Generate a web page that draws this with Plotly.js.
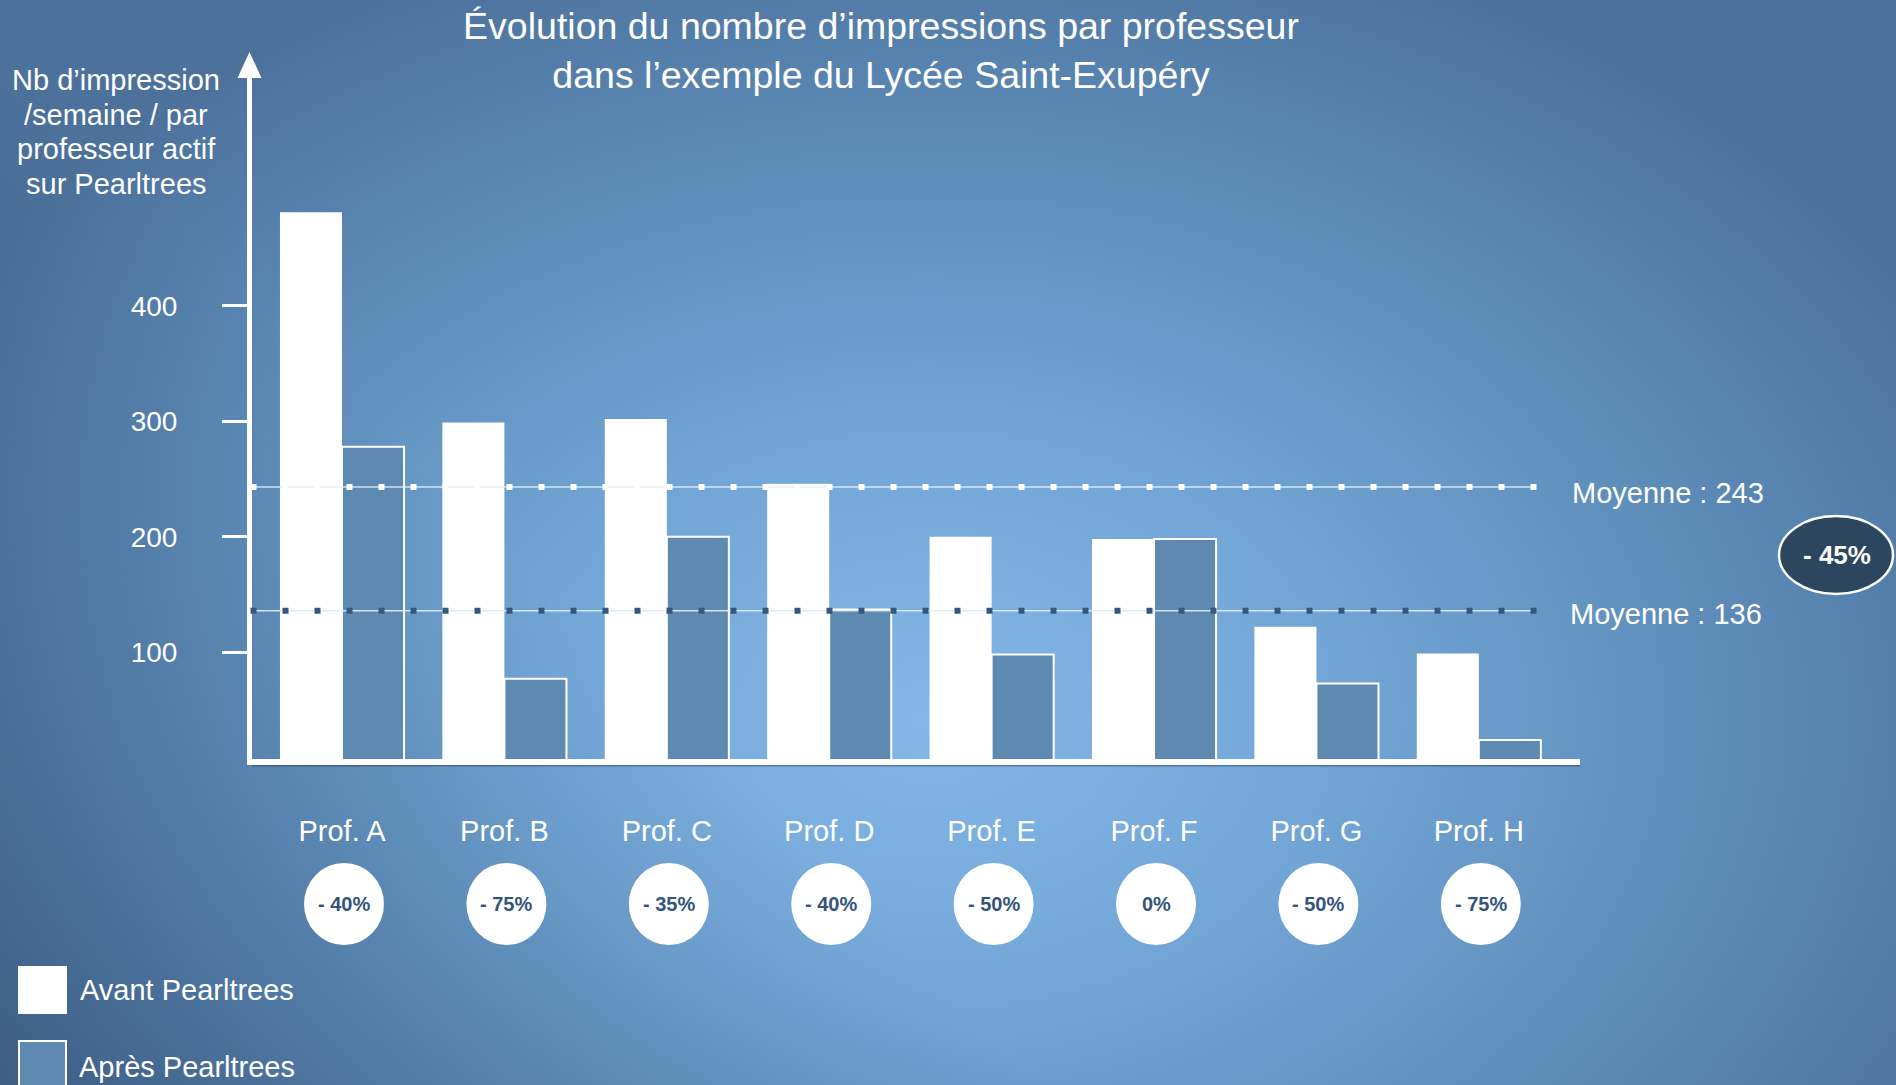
<!DOCTYPE html>
<html>
<head>
<meta charset="utf-8">
<script src="https://cdn.plot.ly/plotly-3.0.1.min.js"></script>
<style>
  html, body { margin: 0; padding: 0; width: 1896px; height: 1085px; overflow: hidden; }
  body {
    background:
      linear-gradient(45deg, rgba(25,45,75,0.35) 0%, rgba(25,45,75,0) 35%),
      radial-gradient(ellipse 1150px 820px at 930px 720px, #83b7e7 0%, #72a6d6 35%, #5d8bb8 70%, #4c729c 100%);
  }
  #chart { width: 1896px; height: 1085px; }
</style>
</head>
<body>
<div id="chart"></div>
<script>
// ---- data ----
const categories = ['Prof. A', 'Prof. B', 'Prof. C', 'Prof. D', 'Prof. E', 'Prof. F', 'Prof. G', 'Prof. H'];
const avant = [481, 299, 302, 246, 200, 198, 122, 99];
const apres = [278, 77, 200, 137, 98, 198, 73, 24];
const variations = ['- 40%', '- 75%', '- 35%', '- 40%', '- 50%', '0%', '- 50%', '- 75%'];
const moyenneAvant = 243;
const moyenneApres = 136;
const variationMoyenne = '- 45%';
const yTicks = [100, 200, 300, 400];
const seriesNames = ['Avant Pearltrees', 'Après Pearltrees'];
const yTitleLines = ['Nb d’impression', '/semaine / par', 'professeur actif', 'sur Pearltrees'];

const FONT = '"Liberation Sans", Arial, Helvetica, sans-serif';
const BLUE = '#5e89b0';
const DARK = '#2c4660';

const idx = categories.map((_, i) => i);

const traces = [
  { type: 'bar', name: seriesNames[0], x: idx, y: avant,
    marker: { color: '#ffffff', line: { width: 0 } }, hoverinfo: 'y' },
  { type: 'bar', name: seriesNames[1], x: idx, y: apres,
    marker: { color: BLUE, line: { color: '#ffffff', width: 2 } }, hoverinfo: 'y' }
];

// layout geometry helpers (pixels -> paper)
const W = 1896, H = 1085, ML = 252, MR = 316, MT = 77, MB = 326;
const PW = W - ML - MR, PH = H - MT - MB;
const px = v => (v - ML) / PW;
const py = v => (H - MB - v) / PH;

const shapes = [];
const annotations = [];

// y-axis arrowhead
shapes.push({ type: 'path', xref: 'paper', yref: 'paper',
  path: `M ${px(237.5)},${py(78)} L ${px(249.5)},${py(52)} L ${px(261.5)},${py(78)} Z`,
  fillcolor: '#ffffff', line: { width: 0 }, layer: 'above' });

// x-axis shadow
shapes.push({ type: 'line', xref: 'paper', yref: 'paper', x0: px(252), x1: px(1580), y0: py(765), y1: py(765),
  line: { color: 'rgba(30,50,80,0.45)', width: 3 }, layer: 'below' });

// mean lines
[[moyenneAvant, '#ffffff'], [moyenneApres, '#36587f']].forEach(([m, c]) => {
  shapes.push({ type: 'line', xref: 'paper', yref: 'y', x0: px(253), x1: px(1536), y0: m, y1: m,
    line: { color: 'rgba(225,236,250,0.9)', width: 1.5 }, layer: 'above' });
  shapes.push({ type: 'line', xref: 'paper', yref: 'y', x0: px(250.5), x1: px(1537), y0: m, y1: m,
    line: { color: c, width: 6, dash: '6px,26px' }, layer: 'above' });
});
annotations.push({ xref: 'paper', yref: 'y', x: px(1570), y: moyenneAvant, yshift: -6, xanchor: 'left', yanchor: 'middle',
  text: 'Moyenne : ' + moyenneAvant, showarrow: false, font: { family: FONT, size: 29, color: '#ffffff' } });
annotations.push({ xref: 'paper', yref: 'y', x: px(1568), y: moyenneApres, yshift: -3, xanchor: 'left', yanchor: 'middle',
  text: 'Moyenne : ' + moyenneApres, showarrow: false, font: { family: FONT, size: 29, color: '#ffffff' } });

// -45% badge
shapes.push({ type: 'circle', xref: 'paper', yref: 'paper', xsizemode: 'pixel', ysizemode: 'pixel',
  xanchor: px(1836), yanchor: py(555), x0: -57, x1: 57, y0: -39, y1: 39,
  fillcolor: DARK, line: { color: '#ffffff', width: 2.5 } });
annotations.push({ xref: 'paper', yref: 'paper', x: px(1837), y: py(555), xanchor: 'center', yanchor: 'middle',
  text: '<b>' + variationMoyenne + '</b>', showarrow: false, font: { family: FONT, size: 26, color: '#ffffff' } });

// per-teacher variation badges
idx.forEach(i => {
  shapes.push({ type: 'circle', xref: 'x', yref: 'paper', xsizemode: 'pixel', ysizemode: 'pixel',
    xanchor: i, yanchor: py(904), x0: -38, x1: 42, y0: -41, y1: 41,
    fillcolor: '#ffffff', line: { width: 0 } });
  annotations.push({ xref: 'x', yref: 'paper', x: i, xshift: 2, y: py(904), xanchor: 'center', yanchor: 'middle',
    text: '<b>' + variations[i] + '</b>', showarrow: false, font: { family: FONT, size: 20, color: '#33557c' } });
});

// y-axis title (one annotation per line to match the tight line spacing)
const yTitleY = [80, 115, 149, 184];
yTitleLines.forEach((t, k) => {
  annotations.push({ xref: 'paper', yref: 'paper', x: px(116), y: py(yTitleY[k]), xanchor: 'center', yanchor: 'middle',
    text: t, showarrow: false, font: { family: FONT, size: 29, color: '#ffffff' } });
});

// legend
shapes.push({ type: 'rect', xref: 'paper', yref: 'paper', x0: px(18), x1: px(67), y0: py(1014), y1: py(966),
  fillcolor: '#ffffff', line: { width: 0 } });
shapes.push({ type: 'rect', xref: 'paper', yref: 'paper', x0: px(19), x1: px(66), y0: py(1090), y1: py(1041),
  fillcolor: BLUE, line: { color: '#ffffff', width: 2 } });
annotations.push({ xref: 'paper', yref: 'paper', x: px(78), y: py(990), xanchor: 'left', yanchor: 'middle',
  text: seriesNames[0], showarrow: false, font: { family: FONT, size: 29, color: '#ffffff' } });
annotations.push({ xref: 'paper', yref: 'paper', x: px(77), y: py(1067), xanchor: 'left', yanchor: 'middle',
  text: seriesNames[1], showarrow: false, font: { family: FONT, size: 29, color: '#ffffff' } });

const layout = {
  width: W, height: H,
  margin: { l: ML, r: MR, t: MT, b: MB, pad: 0 },
  paper_bgcolor: 'rgba(0,0,0,0)',
  plot_bgcolor: 'rgba(0,0,0,0)',
  showlegend: false,
  barmode: 'group',
  bargap: 0.236,
  bargroupgap: 0,
  font: { family: FONT, color: '#ffffff' },
  title: {
    text: 'Évolution du nombre d’impressions par professeur<br>dans l’exemple du Lycée Saint-Exupéry',
    font: { family: FONT, size: 37.5, color: '#ffffff' },
    x: 881 / W, xanchor: 'center', xref: 'container',
    y: 1 - 39 / H, yanchor: 'top', yref: 'container'
  },
  xaxis: {
    range: [-0.5542, 7.623],
    tickvals: idx, ticktext: categories,
    ticks: '', showgrid: false, zeroline: false,
    showline: true, linecolor: '#ffffff', linewidth: 6,
    tickfont: { family: FONT, size: 29, color: '#ffffff' },
    ticklabelstandoff: 41,
    fixedrange: true
  },
  yaxis: {
    range: [7.6, 598.1],
    tickvals: yTicks,
    ticks: 'outside', ticklen: 25, tickwidth: 3, tickcolor: '#ffffff',
    showgrid: false, zeroline: false,
    showline: true, linecolor: '#ffffff', linewidth: 5,
    tickfont: { family: FONT, size: 28, color: '#ffffff' },
    ticklabelstandoff: 39,
    fixedrange: true
  },
  shapes: shapes,
  annotations: annotations
};

Plotly.newPlot('chart', traces, layout, { displayModeBar: false, staticPlot: true });
</script>
</body>
</html>
